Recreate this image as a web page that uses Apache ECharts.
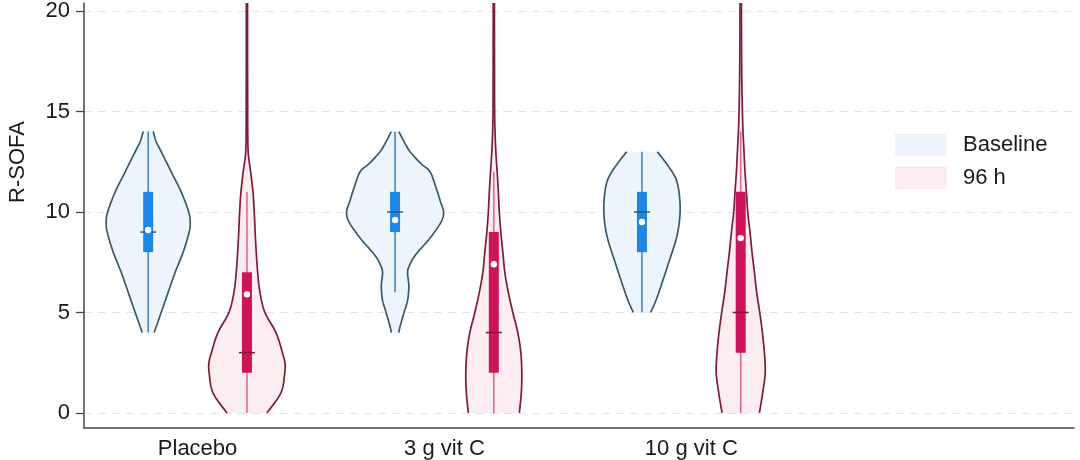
<!DOCTYPE html>
<html>
<head>
<meta charset="utf-8">
<script src="https://cdn.jsdelivr.net/npm/echarts@6/dist/echarts.min.js"></script>
<style>
  html, body { margin: 0; padding: 0; background: #ffffff; }
  #chart { width: 1080px; height: 460px; }
</style>
</head>
<body>
<div id="chart"></div>
<script>
// ---------------- data ----------------
const categories = ['Placebo', '3 g vit C', '10 g vit C'];
const groupPos = [1, 2, 3];
const seriesNames = ['Baseline', '96 h'];
const yTicks = [0, 5, 10, 15, 20];

// Baseline: kernel density profile (R-SOFA level -> relative density)
const baseLevels = [
  [4, 5, 6, 7, 8, 9, 9.5, 10, 11, 12, 13, 13.5, 14],
  [4, 4.3, 5, 5.6, 6.3, 7, 7.4, 7.9, 8.7, 9.5, 10, 10.5, 11.2, 12, 12.4, 13, 13.5, 14],
  [5, 5.6, 6.6, 7.6, 8.6, 9.55, 10.5, 11.5, 12.2, 13]
];
const baseDensity = [
  [0.06, 0.13, 0.20, 0.27, 0.35, 0.41, 0.42, 0.405, 0.33, 0.23, 0.13, 0.08, 0.05],
  [0.038, 0.05, 0.09, 0.125, 0.138, 0.125, 0.15, 0.21, 0.35, 0.46, 0.485, 0.455, 0.41, 0.35, 0.26, 0.15, 0.09, 0.038],
  [0.087, 0.14, 0.21, 0.275, 0.34, 0.375, 0.38, 0.35, 0.275, 0.153]
];
const baseLow = [4, 6, 5];
const baseQ1 = [8, 9, 8];
const baseMedian = [9, 10, 10];
const baseQ3 = [11, 11, 11];
const baseHigh = [14, 14, 13];
const baseMean = [9.1, 9.6, 9.5];

// 96 h
const fuLevels = [
  [0, 1, 2, 2.5, 3, 4, 5, 6, 7, 8, 9, 10, 11, 12, 12.5, 13, 14, 16, 18, 20, 22],
  [0, 1, 2, 3, 4, 5, 6, 7, 8, 9, 10, 11, 12, 13, 14, 15, 17, 20, 22],
  [0, 1, 2, 3, 4, 5, 6, 7, 8, 9, 10, 11, 12, 13, 14, 15, 17, 20, 22]
];
const fuDensity = [
  [0.20, 0.34, 0.378, 0.38, 0.355, 0.29, 0.18, 0.13, 0.107, 0.093, 0.082, 0.073, 0.06, 0.037, 0.023, 0.012, 0.008, 0.007, 0.006, 0.006, 0.006],
  [0.255, 0.275, 0.28, 0.27, 0.24, 0.19, 0.145, 0.11, 0.09, 0.07, 0.055, 0.045, 0.033, 0.02, 0.012, 0.008, 0.007, 0.006, 0.006],
  [0.187, 0.22, 0.245, 0.237, 0.217, 0.19, 0.16, 0.137, 0.113, 0.093, 0.07, 0.057, 0.043, 0.033, 0.023, 0.017, 0.01, 0.007, 0.006]
];
const fuLow = [0, 0, 0];
const fuQ1 = [2, 2, 3];
const fuMedian = [3, 4, 5];
const fuQ3 = [7, 9, 11];
const fuHigh = [11, 12, 14];
const fuMean = [5.9, 7.4, 8.7];

// ---------------- presentation ----------------
const FONT = "'Liberation Sans', Arial, Helvetica, sans-serif";
const TEXT_COLOR = '#1a1a1a';
const DENS_SCALE = 0.405;      // x-axis units per density unit (half width)
const SIDE_OFFSET = 0.2;       // x-axis units from group centre

const STYLE = {
  base: { fill: '#edf4fb', outline: '#3a5a6b', whisker: '#3a80bb', box: '#1e86e3', median: '#275b8c', offset: -SIDE_OFFSET,
          levels: baseLevels, dens: baseDensity, low: baseLow, q1: baseQ1, med: baseMedian, q3: baseQ3, high: baseHigh, mean: baseMean },
  fu:   { fill: '#fcedf0', outline: '#7c1d35', whisker: '#d6658c', box: '#cc1458', median: '#7e1636', offset: SIDE_OFFSET,
          levels: fuLevels, dens: fuDensity, low: fuLow, q1: fuQ1, med: fuMedian, q3: fuQ3, high: fuHigh, mean: fuMean }
};

// Catmull-Rom smoothing of a pixel polyline (rendering only)
function smoothPts(pts, steps) {
  if (pts.length < 3) return pts.slice();
  const out = [];
  for (let i = 0; i < pts.length - 1; i++) {
    const p0 = pts[Math.max(0, i - 1)], p1 = pts[i], p2 = pts[i + 1], p3 = pts[Math.min(pts.length - 1, i + 2)];
    for (let s = 0; s < steps; s++) {
      const t = s / steps, t2 = t * t, t3 = t2 * t;
      const f = function (a, b, c, d) {
        return 0.5 * ((2 * b) + (-a + c) * t + (2 * a - 5 * b + 4 * c - d) * t2 + (-a + 3 * b - 3 * c + d) * t3);
      };
      out.push([f(p0[0], p1[0], p2[0], p3[0]), f(p0[1], p1[1], p2[1], p3[1])]);
    }
  }
  out.push(pts[pts.length - 1]);
  return out;
}

function makeRenderer(key) {
  const s = STYLE[key];
  return function (params, api) {
    const pos = api.value(0);
    const i = api.value(1);
    const cx = api.coord([pos + s.offset, 0])[0];
    const pxPerUnit = api.size([1, 0])[0];
    let left = [], right = [];
    s.levels[i].forEach(function (lv, k) {
      const y = api.coord([pos, lv])[1];
      const hw = s.dens[i][k] * DENS_SCALE * pxPerUnit;
      left.push([cx - hw, y]);
      right.push([cx + hw, y]);
    });
    left = smoothPts(left, 10);
    right = smoothPts(right, 10);
    const fillPts = left.concat(right.slice().reverse());
    const Y = function (v) { return api.coord([pos, v])[1]; };
    const yLow = Y(s.low[i]), yHigh = Y(s.high[i]);
    const yQ1 = Y(s.q1[i]), yQ3 = Y(s.q3[i]);
    const yMed = Y(s.med[i]), yMean = Y(s.mean[i]);
    return {
      type: 'group',
      children: [
        { type: 'polygon', shape: { points: fillPts }, style: { fill: s.fill, stroke: null } },
        { type: 'polyline', shape: { points: left }, style: { stroke: s.outline, lineWidth: 1.7, fill: null, lineJoin: 'round' } },
        { type: 'polyline', shape: { points: right }, style: { stroke: s.outline, lineWidth: 1.7, fill: null, lineJoin: 'round' } },
        { type: 'line', shape: { x1: cx, y1: yLow, x2: cx, y2: yHigh }, style: { stroke: s.whisker, lineWidth: 1.5 } },
        { type: 'rect', shape: { x: cx - 5, y: yQ3, width: 10, height: yQ1 - yQ3 }, style: { fill: s.box } },
        { type: 'line', shape: { x1: cx - 8, y1: yMed, x2: cx + 8, y2: yMed }, style: { stroke: s.median, lineWidth: 1.5 } },
        { type: 'circle', shape: { cx: cx, cy: yMean, r: 3.2 }, style: { fill: '#ffffff' } }
      ]
    };
  };
}

const groupData = groupPos.map(function (p, i) { return [p, i]; });

const chart = echarts.init(document.getElementById('chart'), null, { renderer: 'canvas' });
chart.setOption({
  animation: false,
  backgroundColor: '#ffffff',
  textStyle: { fontFamily: FONT },
  grid: { left: 84, right: 6, top: 0, bottom: 31, containLabel: false },
  legend: {
    orient: 'vertical',
    left: 895,
    top: 133,
    padding: 0,
    itemWidth: 52,
    itemHeight: 23,
    itemGap: 10,
    icon: 'rect',
    data: seriesNames,
    itemStyle: { borderWidth: 0 },
    textStyle: { fontFamily: FONT, fontSize: 22, color: TEXT_COLOR, padding: [5, 0, 0, 11] }
  },
  graphic: [{
    type: 'text',
    x: 18, y: 162,
    rotation: Math.PI / 2,
    style: { text: 'R-SOFA', font: '22px ' + FONT, fill: TEXT_COLOR, align: 'center', verticalAlign: 'middle' }
  }],
  xAxis: {
    type: 'value',
    min: 0.54,
    max: 4.55,
    axisLine: { show: true, onZero: false, lineStyle: { color: '#444', width: 1.5 } },
    axisTick: { show: false },
    splitLine: { show: false },
    axisLabel: {
      customValues: groupPos,
      formatter: function (v) { return categories[Math.round(v) - 1] || ''; },
      fontSize: 22, color: TEXT_COLOR, margin: 10, fontFamily: FONT
    }
  },
  yAxis: {
    type: 'value',
    min: -0.75,
    max: 20.4,
    axisLine: { show: true, onZero: false, lineStyle: { color: '#444', width: 1.5 } },
    axisTick: { show: true, customValues: yTicks, length: 8, lineStyle: { color: '#444', width: 1.3 } },
    axisLabel: { customValues: yTicks, fontSize: 22, color: TEXT_COLOR, margin: 14, fontFamily: FONT },
    splitLine: { show: true, lineStyle: { type: [8, 6], color: '#e4e4e4', width: 1 } }
  },
  series: [
    { name: seriesNames[0], type: 'custom', renderItem: makeRenderer('base'), data: groupData,
      itemStyle: { color: STYLE.base.fill }, clip: true, silent: true },
    { name: seriesNames[1], type: 'custom', renderItem: makeRenderer('fu'), data: groupData,
      itemStyle: { color: STYLE.fu.fill }, clip: true, silent: true }
  ]
});
</script>
</body>
</html>
